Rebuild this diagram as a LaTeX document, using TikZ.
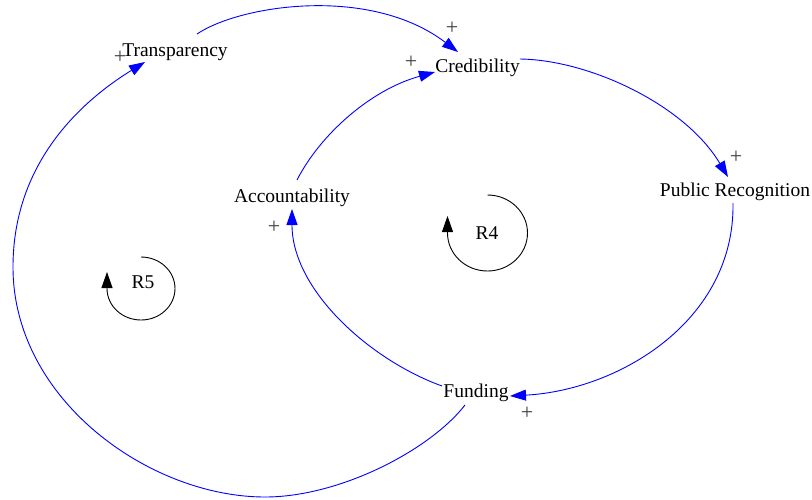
\documentclass[tikz,border=0pt]{standalone}
\usepackage{fontspec}
\setmainfont{Liberation Serif}
\usetikzlibrary{arrows.meta,calc}
\begin{document}
\begin{tikzpicture}[x=1pt,y=-1pt,
  var/.style={font=\fontsize{19.5}{22}\selectfont, inner sep=0pt, anchor=base},
  pol/.style={font=\fontsize{22}{24}\selectfont, inner sep=0pt, text=black!75},
  link/.style={draw=blue, line width=0.9pt, -{Triangle[length=16pt,width=11pt]}},
  loopline/.style={draw=black, line width=0.9pt, -{Triangle[length=16pt,width=11pt]}},
]
\useasboundingbox[fill=white] (0,0) rectangle (812,499);

% variables
\node[var] (trans) at (175,56)   {Transparency};
\node[var] (cred)  at (477.5,72) {Credibility};
\node[var] (pub)   at (735,196)  {Public Recognition};
\node[var] (acc)   at (292,202)  {Accountability};
\node[var] (fund)  at (476,397)  {Funding};

% loop markers
\node[var] (r4) at (487,239) {R4};
\node[var] (r5) at (143,288) {R5};

% causal links
\draw[link] ($(trans.base)+(22,-22)$) .. controls (240,5) and (370,-15) .. ($(cred.base)+(-19.5,-20)$);
\draw[link] ($(cred.base)+(42.5,-13)$) .. controls (590,60) and (685,105) .. ($(pub.base)+(-7,-19)$);
\draw[link] ($(pub.base)+(-2,7)$) .. controls (735,320) and (620,390) .. ($(fund.base)+(34,-1)$);
\draw[link] ($(fund.base)+(-34,-11)$) .. controls (370,360) and (292,290) .. ($(acc.base)+(0,7)$);
\draw[link] ($(acc.base)+(5,-22)$) .. controls (320,135) and (370,90) .. ($(cred.base)+(-42.5,0)$);
\coordinate (lowmid) at (265,497);
\coordinate (leftmid) at (13,267);
\draw[link] ($(fund.base)+(-11,8)$) .. controls (430,450) and (340,497) .. (lowmid)
  .. controls (150,497) and (13,400) .. (leftmid)
  .. controls (13,160) and (85,99) .. ($(trans.base)+(-30,6)$);

% polarities
\node[pol] (p1) at (452,28)  {+};
\node[pol] (p2) at (736,157) {+};
\node[pol] (p3) at (527,413) {+};
\node[pol] (p4) at (274,227) {+};
\node[pol] (p5) at (411,62)  {+};
\node[pol] (p6) at (120,57)  {+};

% loop arrows
\draw[loopline] ($(r4.base)+(0.5,-44)$) arc[start angle=270, end angle=540, x radius=40, y radius=38] -- ++(0,-17);
\draw[loopline] ($(r5.base)+(-2,-31)$) arc[start angle=270, end angle=540, x radius=34, y radius=31.5] -- ++(0,-16.5);
\end{tikzpicture}
\end{document}
